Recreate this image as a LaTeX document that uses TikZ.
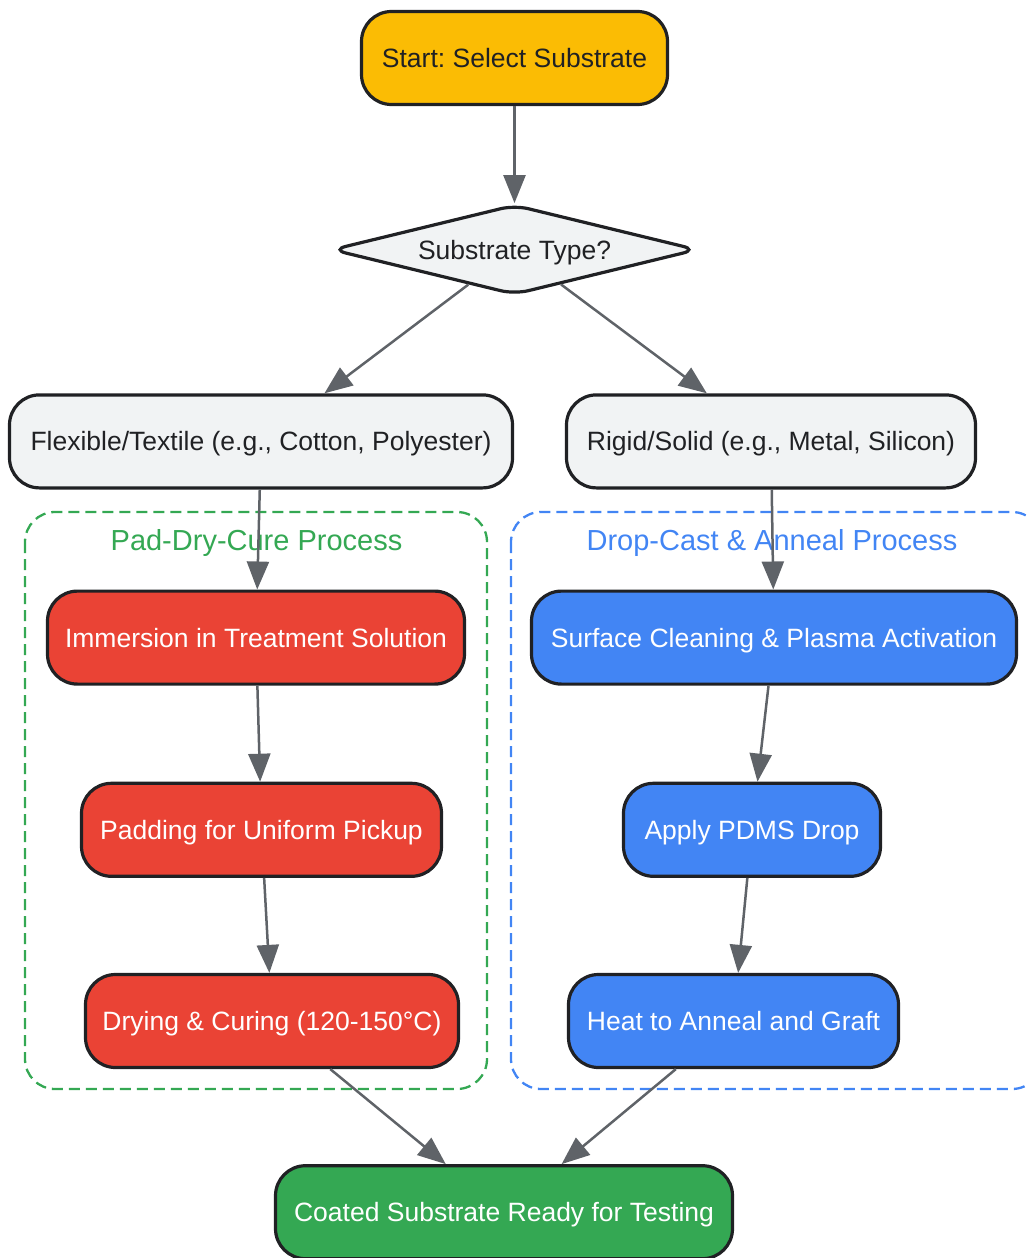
\documentclass[tikz,border=0pt]{standalone}
\usepackage{xcolor}
\usepackage{fontspec}
\setmainfont{Liberation Sans}
\frenchspacing
\usetikzlibrary{shapes.geometric, arrows.meta, positioning}
\definecolor{gyellow}{HTML}{FBBC04}
\definecolor{ggray}{HTML}{F1F3F4}
\definecolor{gred}{HTML}{EA4335}
\definecolor{gblue}{HTML}{4285F4}
\definecolor{ggreen}{HTML}{34A853}
\definecolor{ink}{HTML}{202124}
\definecolor{edgegray}{HTML}{5F6368}
\tikzstyle{block} = [rectangle, draw=ink, line width=3.2pt, rounded corners=30pt, text centered, minimum height=93pt, text height=19pt, text depth=0pt, font=\fontsize{26.5}{32}\selectfont]
\tikzstyle{decision} = [diamond, draw=ink, line width=3.2pt, fill=ggray, text=ink, rounded corners=14pt, aspect=4.2, minimum width=366pt, minimum height=90pt, inner sep=0pt, text height=19pt, text depth=0pt, font=\fontsize{26.5}{32}\selectfont]
\tikzstyle{arrow} = [draw=edgegray, line width=2.5pt, -{Triangle[length=28pt, width=22pt]}]
\tikzstyle{cluster} = [dash pattern=on 11pt off 6pt, line width=2.3pt, rounded corners=30pt]
\tikzstyle{clusterlabel} = [font=\fontsize{29}{34}\selectfont, text height=21pt, text depth=0pt]

\begin{document}
\begin{tikzpicture}[x=1pt, y=-1pt]
            \clip (0,0) rectangle (1026,1258);
            % Clusters
            \draw[cluster, draw=ggreen] (25,512) rectangle (487,1089);
            \draw[cluster, draw=gblue] (511,512) rectangle (1042,1089);
            \node[clusterlabel, text=ggreen] (padlabel) at (256.5,540) {Pad-Dry-Cure Process};
            \node[clusterlabel, text=gblue] (droplabel) at (772,540) {Drop-Cast \& Anneal Process};

            % Nodes
            \node[block, fill=gyellow, text=ink, minimum width=306pt] (start) at (514.5,58) {Start: Select Substrate};
            \node[decision, below=97pt of start] (stype) {Substrate Type?};
            \node[block, fill=ggray, text=ink, minimum width=503pt, below=97pt of stype, xshift=-253.5pt] (flex) {Flexible/Textile (e.g., Cotton, Polyester)};
            \node[block, fill=ggray, text=ink, minimum width=409pt, below=97pt of stype, xshift=256.5pt] (rigid) {Rigid/Solid (e.g., Metal, Silicon)};
            \node[block, fill=gred, text=white, minimum width=417pt, below=100pt of flex, xshift=-5pt] (immerse) {Immersion in Treatment Solution};
            \node[block, fill=gred, text=white, minimum width=360pt, below=96pt of immerse, xshift=5.5pt] (padding) {Padding for Uniform Pickup};
            \node[block, fill=gred, text=white, minimum width=373pt, below=95pt of padding, xshift=10.5pt] (drying) {Drying \& Curing (120-150°C)};
            \node[block, fill=gblue, text=white, minimum width=485pt, below=100pt of rigid, xshift=3pt] (clean) {Surface Cleaning \& Plasma Activation};
            \node[block, fill=gblue, text=white, minimum width=257pt, below=96pt of clean, xshift=-22pt] (pdms) {Apply PDMS Drop};
            \node[block, fill=gblue, text=white, minimum width=330pt, below=95pt of pdms, xshift=-18.5pt] (anneal) {Heat to Anneal and Graft};
            \node[block, fill=ggreen, text=white, minimum width=457pt, below=95pt of drying, xshift=232pt] (ready) {Coated Substrate Ready for Testing};

            % Edges
            \draw[arrow] (start) -- (stype);
            \draw[arrow] (stype) -- (flex);
            \draw[arrow] (stype) -- (rigid);
            \draw[arrow] (flex) -- (immerse);
            \draw[arrow] (immerse) -- (padding);
            \draw[arrow] (padding) -- (drying);
            \draw[arrow] (rigid) -- (clean);
            \draw[arrow] (clean) -- (pdms);
            \draw[arrow] (pdms) -- (anneal);
            \draw[arrow] (drying) -- (ready);
            \draw[arrow] (anneal) -- (ready);
        \end{tikzpicture}
\end{document}
